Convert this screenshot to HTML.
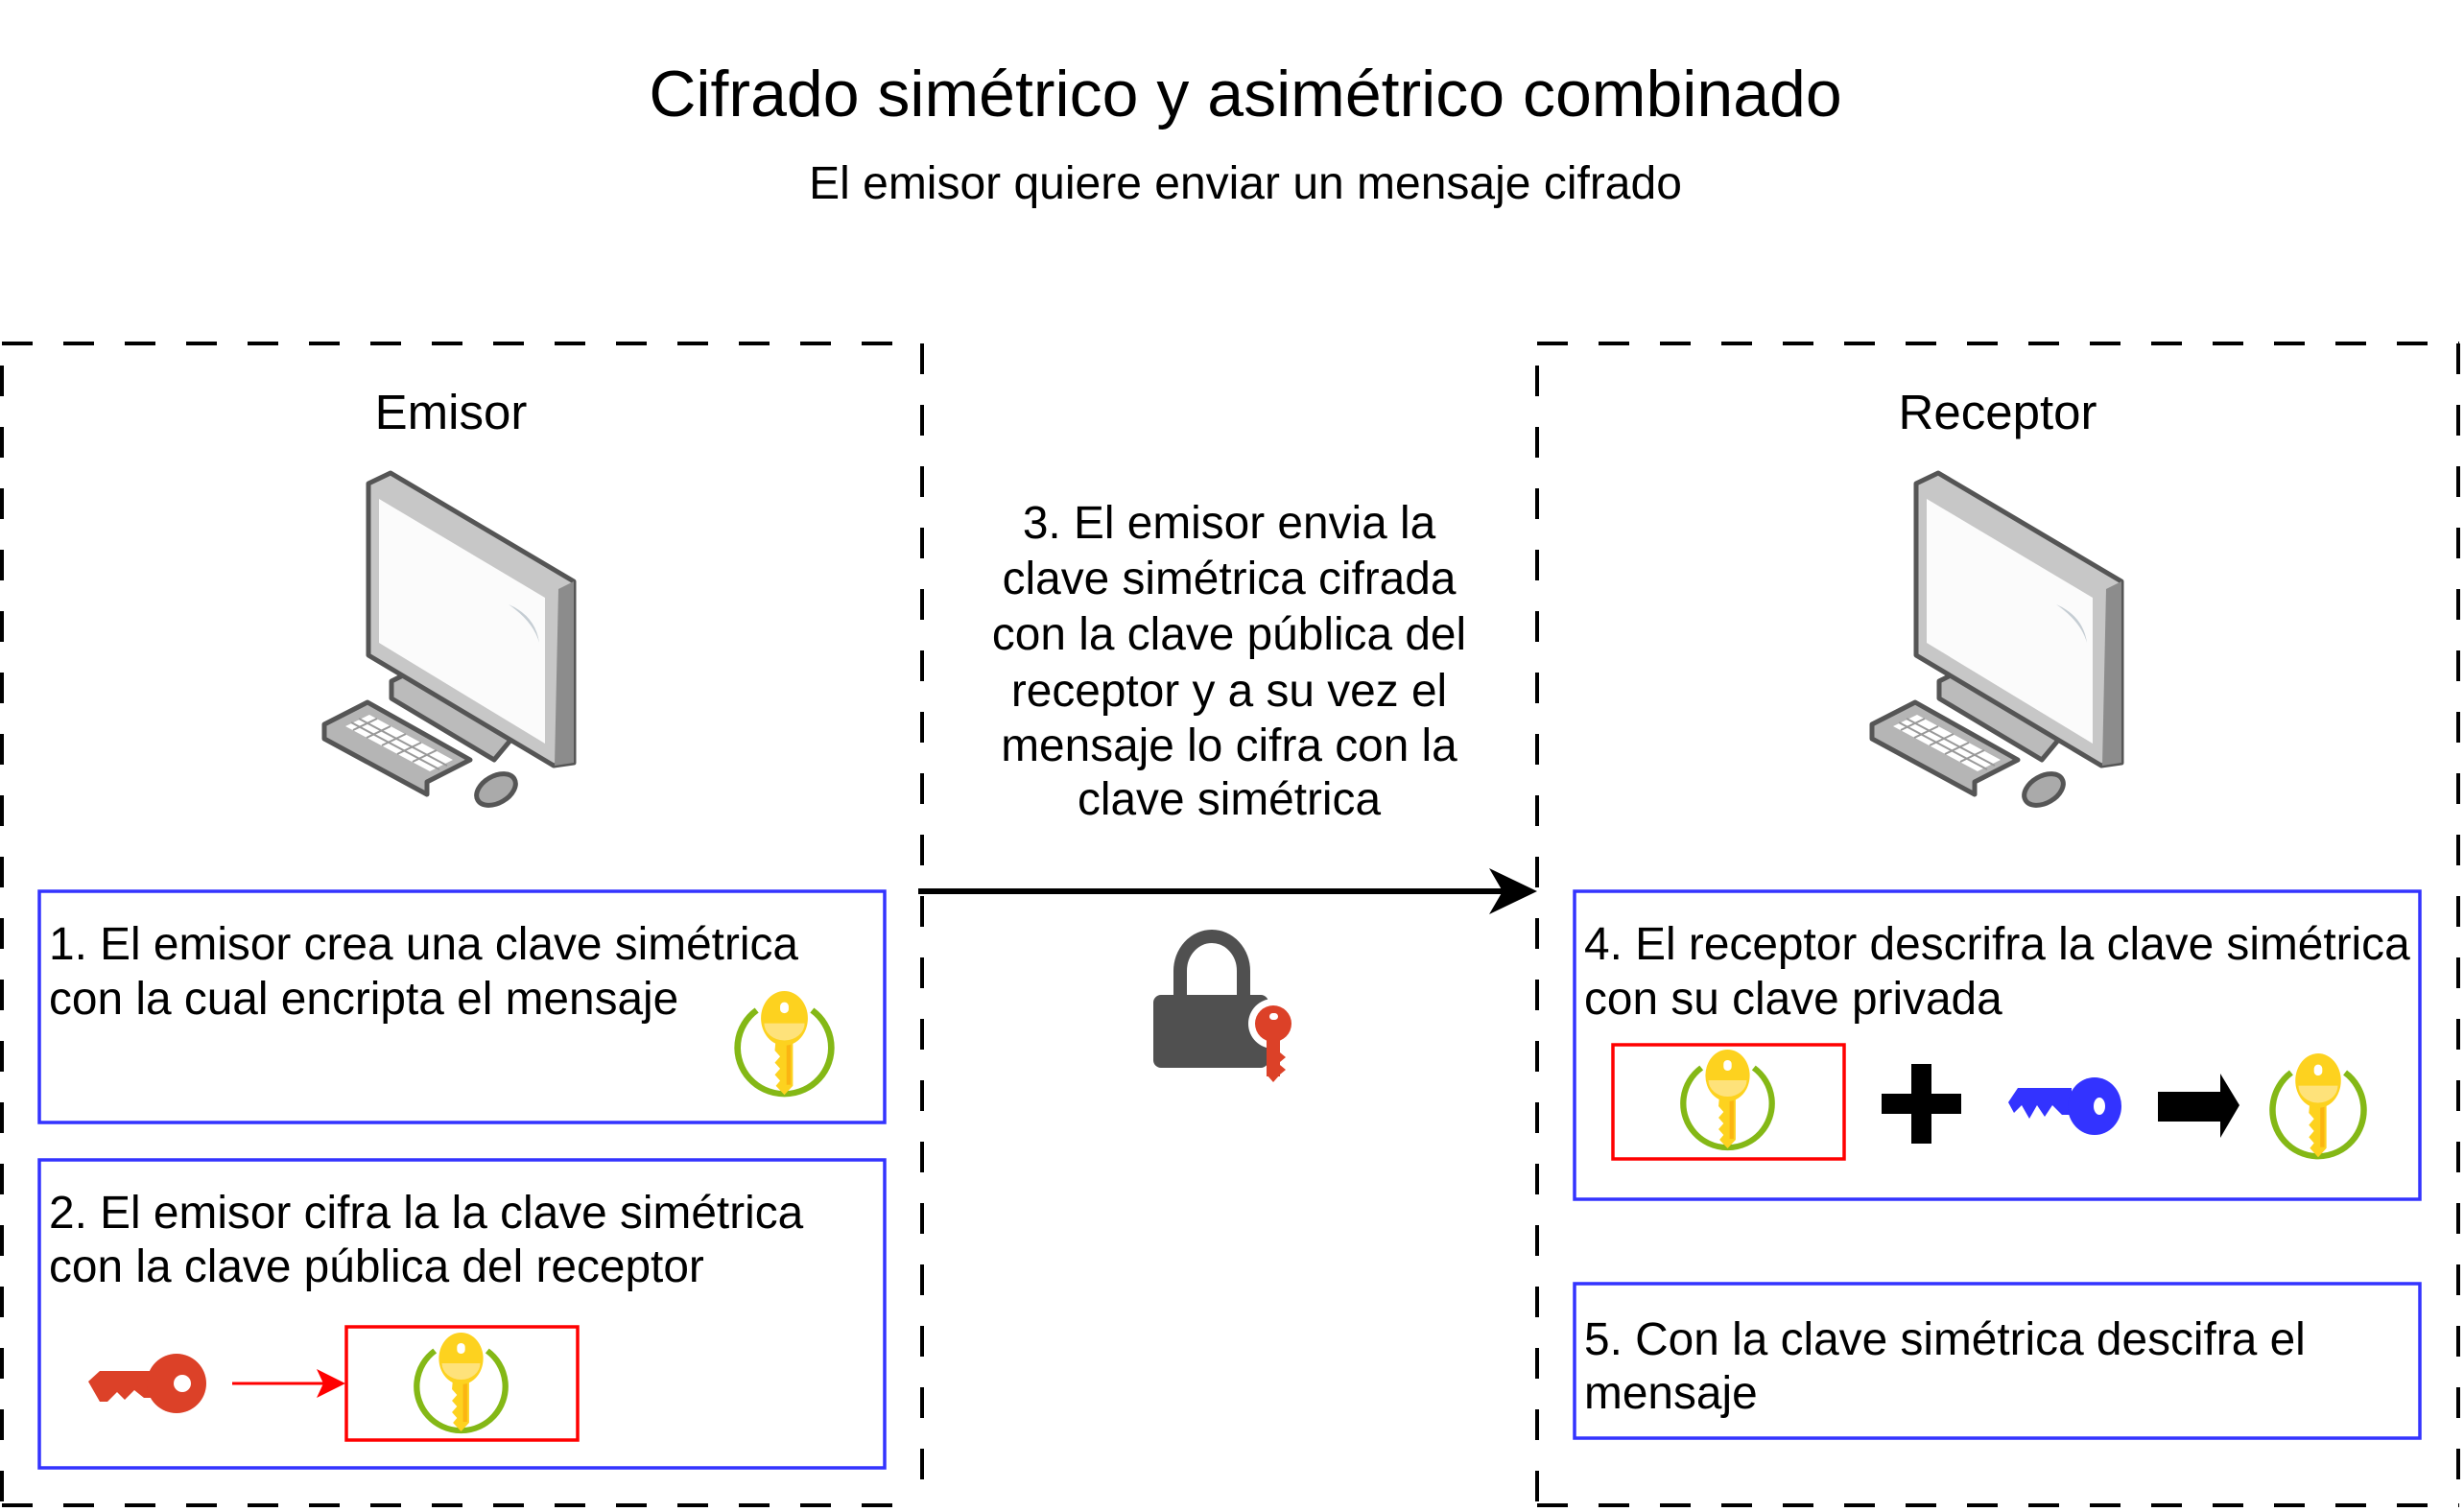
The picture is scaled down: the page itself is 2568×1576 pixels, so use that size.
<!DOCTYPE html>
<html><head><meta charset="utf-8"><style>
html,body{margin:0;padding:0;background:#fff}
svg{display:block}
text{font-family:"Liberation Sans",Arial,sans-serif;fill:#000}
</style></head><body>
<svg width="2568" height="1576" viewBox="0 0 2568 1576" xmlns="http://www.w3.org/2000/svg">
<defs>
<g id="gkey">
  <path d="M24,20 A44,46 0 1,0 76,20" fill="none" stroke="#84b816" stroke-width="6"/>
  <polygon points="42,48 58,48 58,95 50,104 42,95 46,90 41,84 46,78 41,72 46,66 41,60" fill="#fdd21f"/>
  <rect x="52" y="52" width="4" height="42" fill="#fbb512"/>
  <ellipse cx="50" cy="28" rx="22" ry="27" fill="#fdd21f"/>
  <path d="M31,33 L69,33 A19,17 0 0,1 31,33Z" fill="#fee27a"/>
  <rect x="46" y="12" width="8" height="11" rx="4" fill="#fff"/>
</g>
<g id="comp" stroke="#555" stroke-width="5" stroke-linejoin="round">
  <polygon points="88,240 102,233 215,298 195,322 88,258" fill="#bbb"/>
  <polygon points="18,285 63,262 170,322 125,345 125,358 18,300" fill="#b5b5b5"/>
  <polygon points="40,287 65,275 152,322 128,334" fill="#fff" stroke="none"/>
  <g stroke="#999" stroke-width="2">
    <line x1="48" y1="291" x2="73" y2="279"/><line x1="62" y1="299" x2="87" y2="287"/><line x1="78" y1="307" x2="103" y2="295"/><line x1="94" y1="316" x2="119" y2="304"/><line x1="110" y1="324" x2="135" y2="312"/>
    <line x1="46" y1="283" x2="138" y2="332"/><line x1="54" y1="279" x2="146" y2="328"/>
  </g>
  <polygon points="64,34 87,23 278,136 278,325 257,328 64,213" fill="#c7c7c7"/>
  <polygon points="262,144 278,136 278,325 258,328" fill="#8c8c8c" stroke="none"/>
  <polygon points="75,50 248,153 248,305 75,200" fill="#fbfbfb" stroke="none"/>
  <path d="M210,160 Q238,172 242,200 Q236,178 210,160Z" fill="#c5cdd3" stroke="none"/>
  <ellipse cx="197" cy="353" rx="22" ry="14" fill="#aaa" transform="rotate(-30 197 353)"/>
</g>
</defs>

<text x="1298" y="121" font-size="68" text-anchor="middle">Cifrado simétrico y asimétrico combinado</text>
<text x="1298" y="207" font-size="48" text-anchor="middle">El emisor quiere enviar un mensaje cifrado</text>

<g stroke="#000" stroke-width="4" stroke-dasharray="32 32" fill="none">
  <line x1="2" y1="358" x2="962" y2="358"/>
  <line x1="2" y1="381" x2="2" y2="1570"/>
  <line x1="961" y1="358" x2="961" y2="1570"/>
  <line x1="2" y1="1569" x2="962" y2="1569"/>
  <line x1="1602" y1="358" x2="2563" y2="358"/>
  <line x1="1602" y1="381" x2="1602" y2="1570"/>
  <line x1="2562" y1="358" x2="2562" y2="1570"/>
  <line x1="1602" y1="1569" x2="2563" y2="1569"/>
</g>

<text x="470" y="447" font-size="51" text-anchor="middle">Emisor</text>
<text x="2082" y="447" font-size="51" text-anchor="middle">Receptor</text>

<use href="#comp" x="320" y="470"/>
<use href="#comp" x="1933" y="470"/>

<g fill="none" stroke="#3333ff" stroke-width="3.5">
<rect x="41" y="929" width="881" height="241"/>
<rect x="41" y="1209" width="881" height="321"/>
<rect x="1641" y="929" width="881" height="321"/>
<rect x="1641" y="1338" width="881" height="161"/>
</g>

<g font-size="47.8">
<text x="51" y="1000">1. El emisor crea una clave simétrica</text>
<text x="51" y="1057">con la cual encripta el mensaje</text>
<text x="51" y="1280">2. El emisor cifra la la clave simétrica</text>
<text x="51" y="1336">con la clave pública del receptor</text>
<text x="1651" y="1000">4. El receptor descrifra la clave simétrica</text>
<text x="1651" y="1057">con su clave privada</text>
<text x="1651" y="1412">5. Con la clave simétrica descifra el</text>
<text x="1651" y="1468">mensaje</text>
</g>
<g font-size="47.8" text-anchor="middle">
<text x="1281" y="561">3. El emisor envia la</text>
<text x="1281" y="619">clave simétrica cifrada</text>
<text x="1281" y="677">con la clave pública del</text>
<text x="1281" y="736">receptor y a su vez el</text>
<text x="1281" y="793">mensaje lo cifra con la</text>
<text x="1281" y="849">clave simétrica</text>
</g>

<line x1="957" y1="929" x2="1570" y2="929" stroke="#000" stroke-width="6"/>
<polygon points="1602,929 1552,905 1566,929 1552,953" fill="#000"/>

<g transform="translate(1190,962)">
  <path d="M40,78 L40,50 A33,36 0 0,1 106,50 L106,78" fill="none" stroke="#505050" stroke-width="14"/>
  <rect x="12" y="75" width="120" height="76" rx="8" fill="#505050"/>
  <circle cx="137" cy="105" r="26" fill="#fff"/>
  <circle cx="137" cy="105" r="19" fill="#dc4128"/>
  <rect x="130" y="110" width="14" height="50" fill="#dc4128"/>
  <polygon points="130,150 144,150 144,158 137,166 130,158" fill="#dc4128"/>
  <polygon points="144,135 150,140 144,145" fill="#dc4128"/>
  <polygon points="144,148 150,153 144,158" fill="#dc4128"/>
  <rect x="133" y="94" width="9" height="7" rx="3.5" fill="#fff"/>
</g>

<use href="#gkey" transform="translate(762,1032) scale(1.11,1.05)"/>

<g transform="translate(92,1411)">
  <polygon points="0,29 12,18 70,18 70,46 58,46 48,38 38,48 30,40 20,50 12,50" fill="#dc4128"/>
  <circle cx="92" cy="31" r="31" fill="#dc4128"/>
  <circle cx="98" cy="31" r="9" fill="#fff"/>
</g>
<line x1="242" y1="1442" x2="345" y2="1442" stroke="#f00" stroke-width="3"/>
<polygon points="360,1442 330,1427 337,1442 330,1457" fill="#f00"/>
<rect x="361" y="1383" width="241" height="118" fill="none" stroke="#f00" stroke-width="3.5"/>
<use href="#gkey" transform="translate(428,1388) scale(1.05,1.0)"/>

<rect x="1681" y="1089" width="241" height="119" fill="none" stroke="#f00" stroke-width="3.5"/>
<use href="#gkey" transform="translate(1748,1093) scale(1.05,1.0)"/>
<rect x="1992" y="1109" width="21" height="83" fill="#000"/>
<rect x="1961" y="1140" width="83" height="21" fill="#000"/>
<g transform="translate(2093,1124)">
  <polygon points="0,25 10,10 66,10 66,38 56,38 46,28 38,40 30,28 22,42 14,28 6,36" fill="#3333ff"/>
  <ellipse cx="90" cy="29" rx="28" ry="30" fill="#3333ff"/>
  <ellipse cx="95" cy="29" rx="6" ry="9" fill="#fff"/>
</g>
<rect x="2249" y="1138" width="66" height="31" fill="#000"/>
<polygon points="2314,1119 2334,1152 2314,1186" fill="#000"/>
<use href="#gkey" transform="translate(2362,1097) scale(1.08,1.05)"/>
</svg>
</body></html>
